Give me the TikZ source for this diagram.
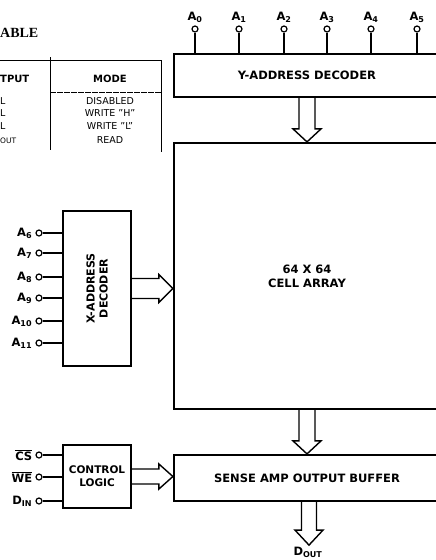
\documentclass[tikz,border=0pt]{standalone}
\usepackage{fontspec}
\setmainfont{DejaVu Sans}
\newfontfamily\serifbf{Liberation Serif}
\newcommand\ovl[1]{$\overline{\hbox{#1}}$}
\begin{document}
\begin{tikzpicture}[x=1pt,y=-1pt,
  box/.style={draw,line width=2.2pt,inner sep=0pt,font=\bfseries\fontsize{11.5}{14}\selectfont,align=center},
  pin/.style={circle,draw,line width=1.2pt,inner sep=0pt,minimum size=6pt,fill=white},
  wire/.style={line width=1.5pt},
  hollow/.style={draw,line width=1.4pt,line join=miter,fill=white},
  plab/.style={font=\bfseries\fontsize{11.5}{13}\selectfont,inner sep=0pt},
  tab/.style={font=\fontsize{9.5}{11}\selectfont,inner sep=0pt},
  tabh/.style={font=\bfseries\fontsize{10}{11}\selectfont,inner sep=0pt},
  rule/.style={line width=0.8pt}]
\clip (0,0) rectangle (436,560);
\fill[white] (0,0) rectangle (436,560);

% truth table fragment
\node[font=\serifbf\bfseries\fontsize{14}{16}\selectfont,anchor=west,inner sep=0pt] (ttl) at (0,33) {ABLE};
\draw[rule] (0,60) -- (161,60) -- (161,152);
\draw[rule] (50,57) -- (50,150);
\draw[rule,dash pattern=on 6pt off 1pt] (50,92) -- (161,92);
\node[tabh,anchor=west] (h1) at (0,79) {TPUT};
\node[tabh] (h2) at (110,79) {MODE};
\node[tab,anchor=west] (r1a) at (0,101) {L};
\node[tab] (r1b) at (110,101) {DISABLED};
\node[tab,anchor=west] (r2a) at (0,113) {L};
\node[tab] (r2b) at (110,113) {WRITE "H"};
\node[tab,anchor=west] (r3a) at (0,126) {L};
\node[tab] (r3b) at (110,126) {WRITE "L"};
\node[tab,anchor=west,font=\fontsize{7.5}{8}\selectfont] (r4a) at (0,141) {OUT};
\node[tab] (r4b) at (110,140) {READ};

% blocks
\node[box,minimum width=266pt,minimum height=43pt] (ydec) at (307,75.5) {Y-ADDRESS DECODER};
\node[box,minimum width=266pt,minimum height=266pt] (cell) at (307,276) {64 X 64\\CELL ARRAY};
\node[box,minimum width=266pt,minimum height=46pt] (samp) at (307,478) {SENSE AMP OUTPUT BUFFER};
\node[box,minimum width=68pt,minimum height=155pt] (xdec) at (97,288.5) {};
\node[font=\bfseries\fontsize{11}{13}\selectfont,align=center,rotate=90,inner sep=0pt] (xdect) at (xdec.center) {X-ADDRESS\\DECODER};
\node[box,minimum width=68pt,minimum height=63pt,font=\bfseries\fontsize{10.5}{13}\selectfont] (ctl) at (97,476.5) {CONTROL\\LOGIC};

% Y address pins
\foreach \i/\x in {0/195,1/239,2/284,3/327,4/371,5/417} {
  \node[pin] (a\i) at (\x,29) {};
  \node[plab,above=3pt] (la\i) at (a\i.north) {A\textsubscript{\i}};
  \draw[wire] (a\i.south) -- (a\i.south |- ydec.north);
}

% X address pins
\foreach \i/\y in {6/233,7/253,8/277,9/298,10/321,11/343} {
  \node[pin] (a\i) at (39,\y) {};
  \node[plab,left=3pt] (la\i) at (a\i.west) {A\textsubscript{\i}};
  \draw[wire] (a\i.east) -- (a\i.east -| xdec.west);
}

% control pins
\node[pin] (cs) at (39,455) {};
\node[plab,left=3pt] (lcs) at (cs.west) {\ovl{CS}};
\node[pin] (we) at (39,477) {};
\node[plab,left=3pt] (lwe) at (we.west) {\ovl{WE}};
\node[pin] (din) at (39,501) {};
\node[plab,left=3pt] (ldin) at (din.west) {D\textsubscript{IN}};
\foreach \p in {cs,we,din} \draw[wire] (\p.east) -- (\p.east -| ctl.west);

% hollow arrows
\draw[hollow] ([xshift=-8pt]ydec.south) -- ([xshift=-8pt,yshift=13pt]cell.north)
  -- ([xshift=-14pt,yshift=13pt]cell.north) -- (cell.north)
  -- ([xshift=14pt,yshift=13pt]cell.north) -- ([xshift=8pt,yshift=13pt]cell.north)
  -- ([xshift=8pt]ydec.south);

\draw[hollow] ([xshift=-8pt]cell.south) -- ([xshift=-8pt,yshift=13pt]samp.north)
  -- ([xshift=-14pt,yshift=13pt]samp.north) -- (samp.north)
  -- ([xshift=14pt,yshift=13pt]samp.north) -- ([xshift=8pt,yshift=13pt]samp.north)
  -- ([xshift=8pt]cell.south);

\coordinate (xt) at (cell.west |- xdec.east);
\draw[hollow] ([yshift=10pt]xdec.east) -- ([xshift=-14pt,yshift=10pt]xt)
  -- ([xshift=-14pt,yshift=14pt]xt) -- (xt)
  -- ([xshift=-14pt,yshift=-14pt]xt) -- ([xshift=-14pt,yshift=-10pt]xt)
  -- ([yshift=-10pt]xdec.east);

\coordinate (ct) at (samp.west |- ctl.east);
\draw[hollow] ([yshift=7.5pt]ctl.east) -- ([xshift=-14pt,yshift=7.5pt]ct)
  -- ([xshift=-14pt,yshift=12.5pt]ct) -- (ct)
  -- ([xshift=-14pt,yshift=-12.5pt]ct) -- ([xshift=-14pt,yshift=-7.5pt]ct)
  -- ([yshift=-7.5pt]ctl.east);

\coordinate (dtip) at ([xshift=2pt,yshift=-43pt]samp.south);
\draw[hollow] ([xshift=-5.5pt]samp.south) -- ([xshift=-7.5pt,yshift=15pt]dtip)
  -- ([xshift=-14pt,yshift=15pt]dtip) -- (dtip)
  -- ([xshift=14pt,yshift=15pt]dtip) -- ([xshift=7.5pt,yshift=15pt]dtip)
  -- ([xshift=9.5pt]samp.south);
\node[plab] (dout) at (308,552) {D\textsubscript{OUT}};
\end{tikzpicture}
\end{document}
